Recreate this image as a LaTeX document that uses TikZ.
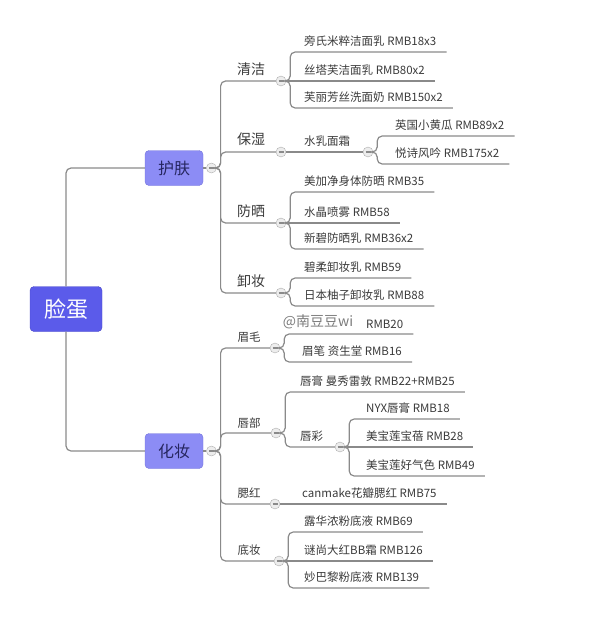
\documentclass[tikz,border=0pt]{standalone}
\usepackage{fontspec}
\setmainfont{Noto Sans CJK SC}
\usetikzlibrary{positioning}
\definecolor{Hub}{HTML}{5B5BEA}
\definecolor{HubLine}{HTML}{4848C6}
\definecolor{Topic}{HTML}{8C8CF5}
\definecolor{TopicLine}{HTML}{7474DA}
\definecolor{TopicInk}{HTML}{262660}
\definecolor{Wire}{HTML}{8A8A8A}
\definecolor{Ink}{HTML}{3A3A3A}
\tikzset{hub/.style={draw=HubLine,fill=Hub,text=white,rounded corners=4pt,
  minimum width=72pt,minimum height=45pt,font=\fontsize{22}{24}\selectfont},
  topic/.style={draw=TopicLine,fill=Topic,text=TopicInk,rounded corners=4pt,
  minimum width=58pt,minimum height=35pt,font=\fontsize{16}{18}\selectfont},
  cat/.style={text=Ink,inner sep=0pt,font=\fontsize{14}{16}\selectfont},
  smallcat/.style={cat,font=\fontsize{11.5}{13}\selectfont},
  item/.style={anchor=south west,text=Ink,inner xsep=10pt,inner ysep=5pt,
  font=\fontsize{11.5}{13}\selectfont},
  fold/.style={circle,draw=Wire!70,fill=Wire!15,minimum size=10pt,inner sep=0pt,
  path picture={\draw[Wire,line width=1.2pt]
  ([xshift=-2.5pt]path picture bounding box.center)--([xshift=2.5pt]path picture bounding box.center);}},
  wire/.style={draw=Wire,line width=1.2pt,rounded corners=5pt},
  wmark/.style={text=Wire!90!black,inner sep=0pt,font=\fontsize{14}{16}\selectfont}}
\begin{document}
\begin{tikzpicture}[x=1pt,y=-1pt]
\useasboundingbox (0,0) rectangle (600,618);
\node[hub] (r) at (66,309) {脸蛋};
\node[topic] (a) at (174,168) {护肤};
\node[topic] (b) at (174,451) {化妆};
\node[fold,right=3pt of a] (fa) {};
\node[fold,right=3pt of b] (fb) {};
% 护肤
\node[cat] (k1) at (251,69) {清洁};
\node[cat] (k2) at (251,139) {保湿};
\node[cat] (k3) at (251,211) {防晒};
\node[cat] (k4) at (251,281) {卸妆};
\node[fold] (f1) at (281,81) {};
\node[fold] (f2) at (281,152) {};
\node[fold] (f3) at (281,223) {};
\node[fold] (f4) at (281,293) {};
\node[item] (l1) at (294,52) {旁氏米粹洁面乳 RMB18x3};
\node[item] (l2) at (294,81) {丝塔芙洁面乳 RMB80x2};
\node[item] (l3) at (294,108) {芙丽芳丝洗面奶 RMB150x2};
\node[item] (s1) at (294,152) {水乳面霜};
\node[fold] (g1) at (368,152) {};
\node[item] (l4) at (385,136) {英国小黄瓜 RMB89x2};
\node[item] (l5) at (385,164) {悦诗风吟 RMB175x2};
\node[item] (l6) at (294,192) {美加净身体防晒 RMB35};
\node[item] (l7) at (294,223) {水晶喷雾 RMB58};
\node[item] (l8) at (294,249) {新碧防晒乳 RMB36x2};
\node[item] (l9) at (294,278) {碧柔卸妆乳 RMB59};
\node[item] (l10) at (294,306) {日本柚子卸妆乳 RMB88};
% 化妆
\node[smallcat] (k5) at (249,337) {眉毛};
\node[smallcat] (k6) at (249,423) {唇部};
\node[smallcat] (k7) at (249,493) {腮红};
\node[smallcat] (k8) at (249,550) {底妆};
\node[fold] (f5) at (275,348) {};
\node[fold] (f6) at (276,433) {};
\node[fold] (f7) at (275,504) {};
\node[fold] (f8) at (279,561) {};
\node[item] (m1) at (356,334) {RMB20};
\node[wmark] (w) at (318,322) {@南豆豆wi};
\node[item] (m2) at (292,362) {眉笔 资生堂 RMB16};
\node[item] (m3) at (290,392) {唇膏 曼秀雷敦 RMB22+RMB25};
\node[item] (s2) at (290,447) {唇彩};
\node[fold] (g2) at (340,447) {};
\node[item] (m4) at (356,419) {NYX唇膏 RMB18};
\node[item] (m5) at (356,447) {美宝莲宝蓓 RMB28};
\node[item] (m6) at (356,476) {美宝莲好气色 RMB49};
\node[item] (m7) at (292,504) {canmake花瓣腮红 RMB75};
\node[item] (m8) at (294,532) {露华浓粉底液 RMB69};
\node[item] (m9) at (294,561) {谜尚大红BB霜 RMB126};
\node[item] (m10) at (294,588) {妙巴黎粉底液 RMB139};
% connectors
\draw[wire] (r.north) |- (a.west);
\draw[wire] (r.south) |- (b.west);
\draw[wire] (a) -- (fa); \draw[wire] (b) -- (fb);
\foreach \k in {f1,f2,f3,f4} \draw[wire] (fa.east) -- ++(4,0) |- (\k.west);
\foreach \k in {f5,f6,f7,f8} \draw[wire] (fb.east) -- ++(4,0) |- (\k.west);
\foreach \l in {l1,l3} \draw[wire] (f1.east) -- ++(4,0) |- (\l.south east);
\draw[wire] (f1) -- (l2.south east);
\draw[wire] (f2) -- (g1);
\foreach \l in {l4,l5} \draw[wire] (g1.east) -- ++(4,0) |- (\l.south east);
\foreach \l in {l6,l8} \draw[wire] (f3.east) -- ++(4,0) |- (\l.south east);
\draw[wire] (f3) -- (l7.south east);
\foreach \l in {l9,l10} \draw[wire] (f4.east) -- ++(4,0) |- (\l.south east);
\foreach \l in {m1,m2} \draw[wire] (f5.east) -- ++(4,0) |- (\l.south east);
\draw[wire] (f6.east) -- ++(4,0) |- (m3.south east);
\draw[wire] (f6.east) -- ++(4,0) |- (g2.west);
\foreach \l in {m4,m6} \draw[wire] (g2.east) -- ++(4,0) |- (\l.south east);
\draw[wire] (g2) -- (m5.south east);
\draw[wire] (f7) -- (m7.south east);
\foreach \l in {m8,m10} \draw[wire] (f8.east) -- ++(4,0) |- (\l.south east);
\draw[wire] (f8) -- (m9.south east);
\end{tikzpicture}
\end{document}
